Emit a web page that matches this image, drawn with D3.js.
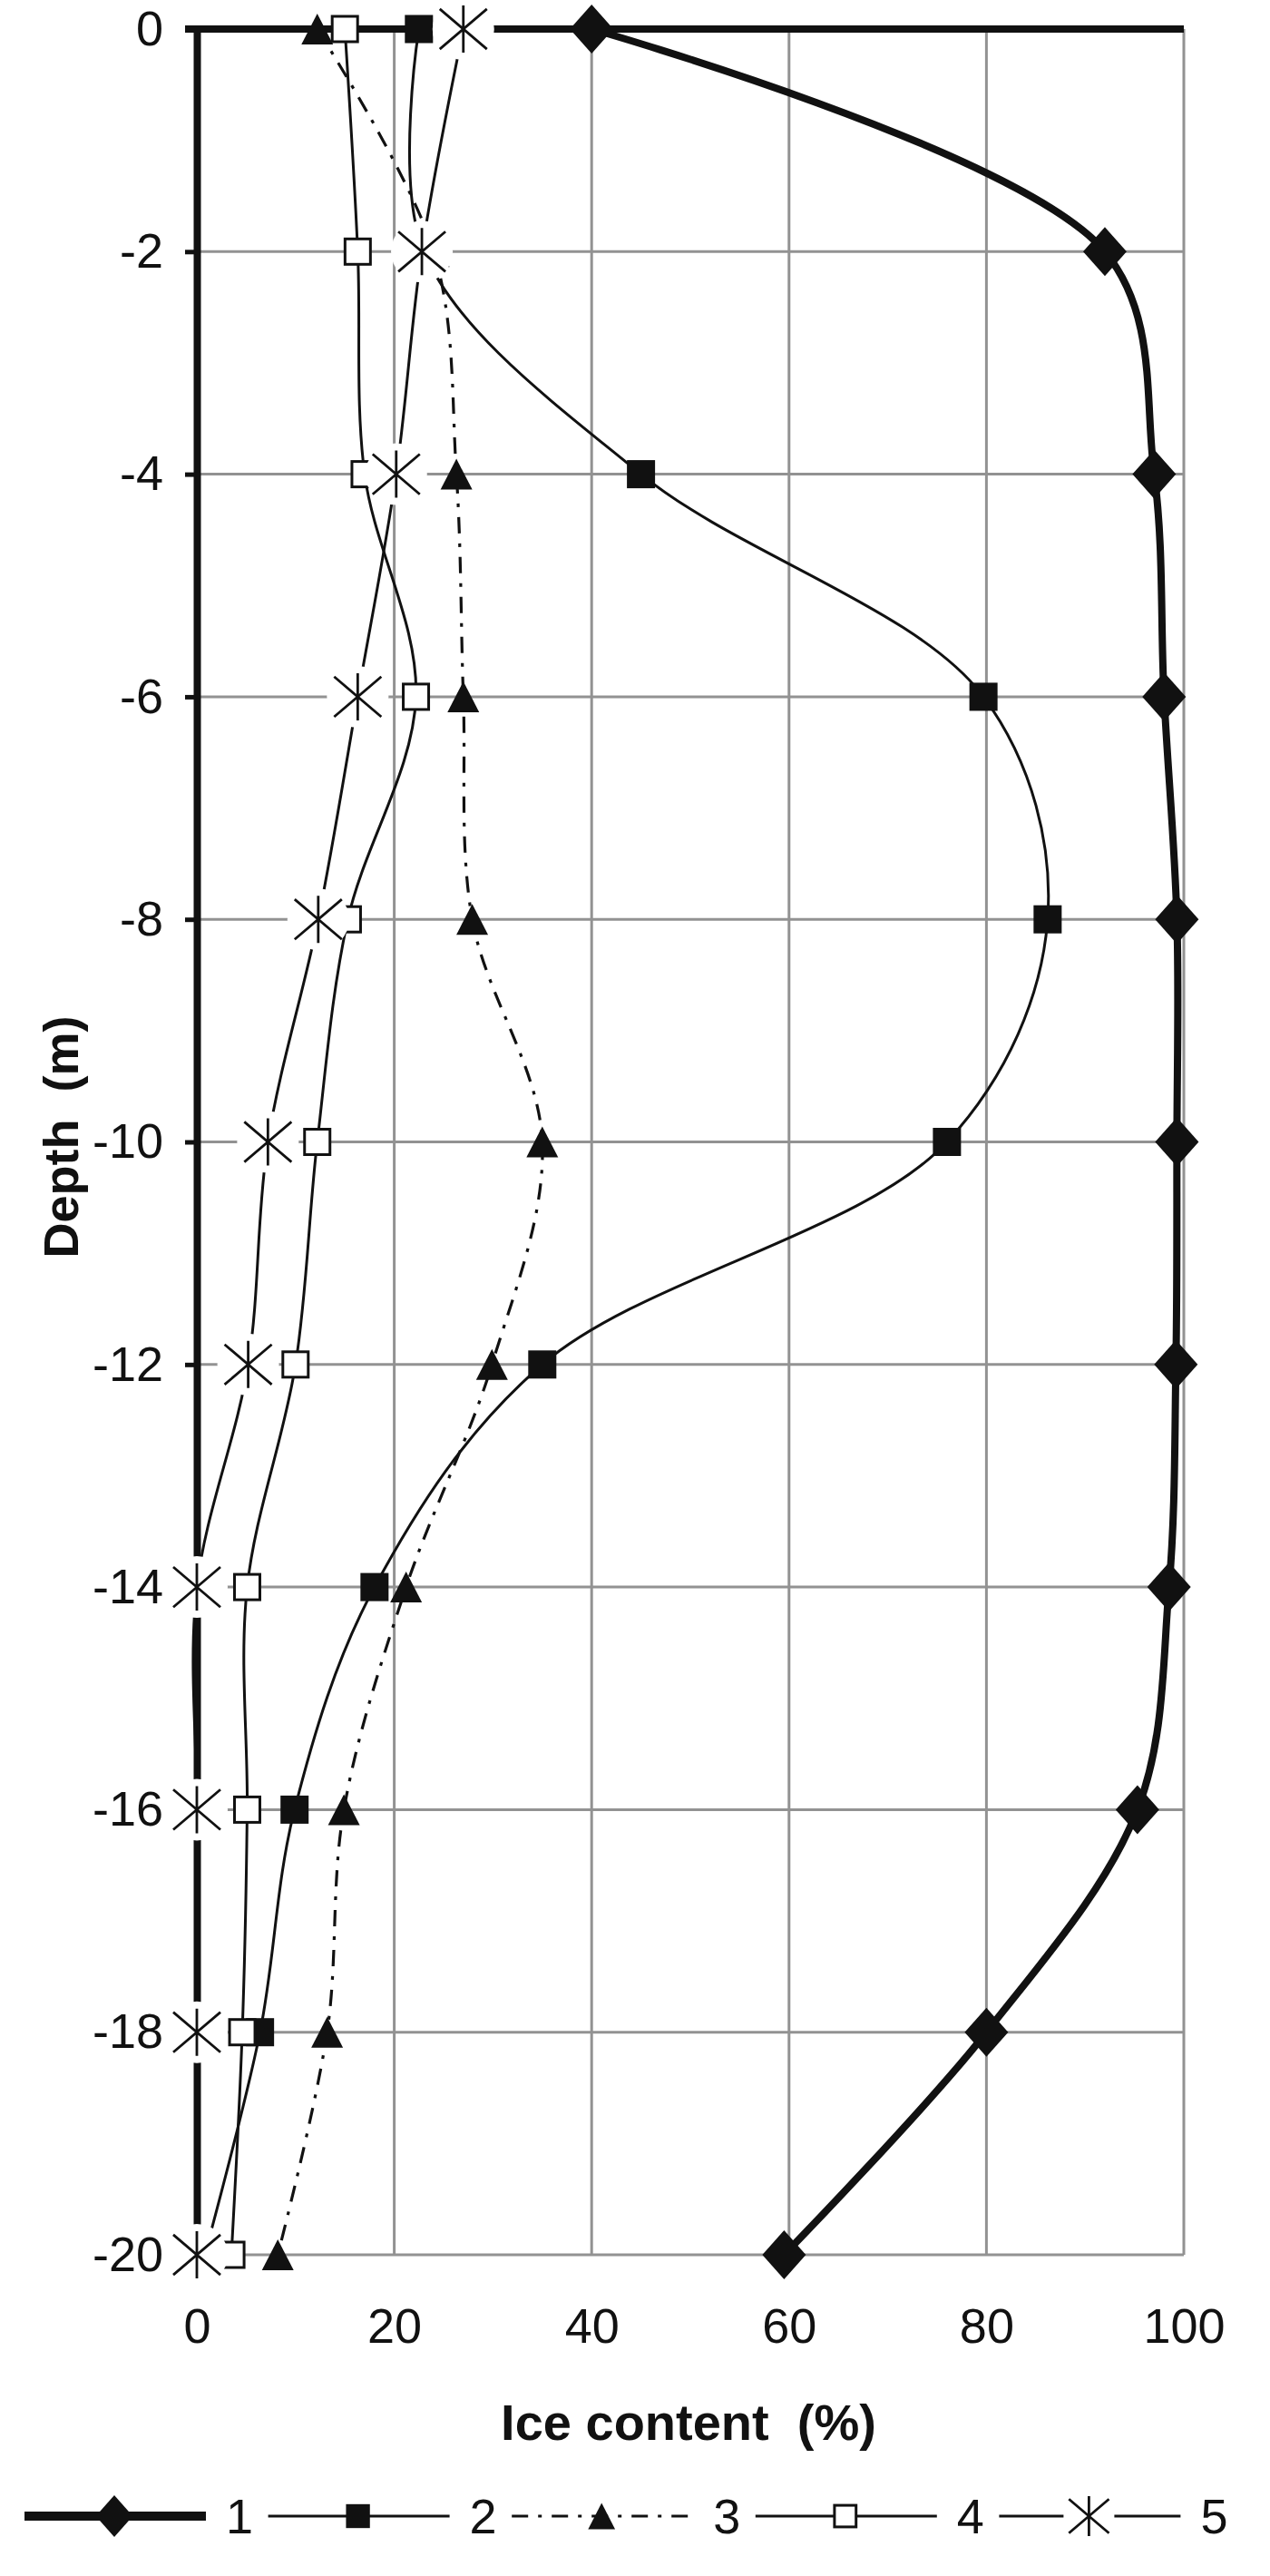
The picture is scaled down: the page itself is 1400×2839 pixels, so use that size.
<!DOCTYPE html>
<html>
<head>
<meta charset="utf-8">
<script src="https://cdn.jsdelivr.net/npm/d3@7"></script>
<style>
  html, body { margin: 0; padding: 0; background: #fff; }
  svg { display: block; font-family: "Liberation Sans", Arial, sans-serif; }
</style>
</head>
<body>
<svg id="chart" width="1400" height="2839"></svg>
<script>
// depth (m) for every measured point, and ice content (%) per profile
const depths = [0, -2, -4, -6, -8, -10, -12, -14, -16, -18, -20];
const series1 = [40, 92, 97, 98, 99.3, 99.3, 99.2, 98.5, 95.3, 80, 59.5];
const series2 = [22.5, 23, 45, 79.7, 86.2, 76, 35, 18, 9.9, 6.4, 0.8];
const series3 = [12.2, 24, 26.3, 27, 27.9, 35, 29.9, 21.2, 14.9, 13.2, 8.2];
const series4 = [15, 16.3, 17, 22.2, 15.3, 12.2, 10, 5.1, 5.1, 4.6, 3.5];
const series5 = [27, 22.8, 20.2, 16.3, 12.3, 7.2, 5.2, 0, 0, 0, 0];
const seriesNames = ["1", "2", "3", "4", "5"];
const xTicks = [0, 20, 40, 60, 80, 100];
const yTicks = [0, -2, -4, -6, -8, -10, -12, -14, -16, -18, -20];

const allSeries = [series1, series2, series3, series4, series5];

const ink = '#111';
const gridColor = '#929292';
const styles = [
  { width: 8, dash: null, marker: 'diamond' },
  { width: 3, dash: null, marker: 'square' },
  { width: 3.2, dash: '18,11,4,11', marker: 'triangle' },
  { width: 3, dash: null, marker: 'open' },
  { width: 3, dash: null, marker: 'star' }
];

const svg = d3.select('#chart');

const x = d3.scaleLinear().domain([0, 100]).range([217, 1305]);
const y = d3.scaleLinear().domain([0, -20]).range([32, 2485]);

// grid
const grid = svg.append('g');
grid.selectAll('.vgrid')
  .data(xTicks.filter(d => d > 0))
  .enter().append('line')
  .attr('x1', d => x(d)).attr('x2', d => x(d))
  .attr('y1', y(0)).attr('y2', y(-20))
  .attr('stroke', gridColor).attr('stroke-width', 3);
grid.selectAll('.hgrid')
  .data(yTicks.filter(d => d < 0))
  .enter().append('line')
  .attr('x1', x(0)).attr('x2', x(100))
  .attr('y1', d => y(d)).attr('y2', d => y(d))
  .attr('stroke', gridColor).attr('stroke-width', 3);

// y axis (thick, at x = 0)
const yAxis = svg.append('g')
  .attr('transform', `translate(${x(0)},0)`)
  .call(d3.axisLeft(y).tickValues(yTicks).tickSize(13).tickSizeOuter(0).tickPadding(24).tickFormat(d => String(d)));
yAxis.select('.domain').attr('stroke', ink).attr('stroke-width', 8);
yAxis.selectAll('.tick line').attr('stroke', ink).attr('stroke-width', 5);
yAxis.selectAll('.tick text')
  .attr('fill', ink)
  .style('font-size', '54px')
  .style('font-family', '"Liberation Sans", Arial, sans-serif');

// x axis labels at the bottom
const xAxis = svg.append('g')
  .attr('transform', `translate(0,${y(-20)})`)
  .call(d3.axisBottom(x).tickValues(xTicks).tickSize(0).tickPadding(59));
xAxis.select('.domain').remove();
xAxis.selectAll('.tick text')
  .attr('fill', ink)
  .style('font-size', '54px')
  .style('font-family', '"Liberation Sans", Arial, sans-serif');

// thick horizontal axis at depth 0
svg.append('line')
  .attr('x1', x(0) - 13).attr('x2', x(100))
  .attr('y1', y(0)).attr('y2', y(0))
  .attr('stroke', ink).attr('stroke-width', 8);

// axis titles
svg.append('text')
  .attr('x', 759).attr('y', 2689)
  .attr('text-anchor', 'middle')
  .style('white-space', 'pre')
  .style('font-size', '56px').style('font-weight', 'bold')
  .attr('fill', ink)
  .text('Ice content  (%)');

svg.append('text')
  .attr('transform', 'translate(86,1253) rotate(-90)')
  .attr('text-anchor', 'middle')
  .style('white-space', 'pre')
  .style('font-size', '54px').style('font-weight', 'bold')
  .attr('fill', ink)
  .text('Depth  (m)');

// lines
const line = d3.line()
  .x(d => x(d.v))
  .y(d => y(d.depth))
  .curve(d3.curveCatmullRom.alpha(0.5));

const rows = allSeries.map(s => s.map((v, i) => ({ v, depth: depths[i] })));

rows.forEach((r, i) => {
  svg.append('path')
    .datum(r)
    .attr('fill', 'none')
    .attr('stroke', ink)
    .attr('stroke-width', styles[i].width)
    .attr('stroke-dasharray', styles[i].dash)
    .attr('stroke-linejoin', 'round')
    .attr('d', line);
});

function drawMarker(g, type, k) {
  if (type === 'diamond') {
    g.append('path').attr('d', `M0,${-27 * k}L${24 * k},0L0,${27 * k}L${-24 * k},0Z`).attr('fill', ink);
  } else if (type === 'square') {
    g.append('rect').attr('x', -15.5 * k).attr('y', -15.5 * k).attr('width', 31 * k).attr('height', 31 * k).attr('fill', ink);
  } else if (type === 'triangle') {
    g.append('path').attr('d', `M0,${-17 * k}L${17.5 * k},${17 * k}L${-17.5 * k},${17 * k}Z`).attr('fill', ink);
  } else if (type === 'open') {
    g.append('rect').attr('x', -14 * k).attr('y', -14 * k).attr('width', 28 * k).attr('height', 28 * k)
      .attr('fill', '#fff').attr('stroke', ink).attr('stroke-width', 3);
  } else if (type === 'star') {
    const a = 26 * k;
    g.append('path')
      .attr('d', `M0,${-a}V${a}M${-a},${-a * 0.85}L${a},${a * 0.85}M${-a},${a * 0.85}L${a},${-a * 0.85}`)
      .attr('stroke', ink).attr('stroke-width', 2.8).attr('fill', 'none');
  }
}

// markers of series 1-4
rows.slice(0, 4).forEach((r, i) => {
  svg.append('g').selectAll('g')
    .data(r)
    .enter().append('g')
    .attr('transform', d => `translate(${x(d.v)},${y(d.depth)})`)
    .each(function () { drawMarker(d3.select(this), styles[i].marker, 1); });
});

// series 5 asterisks carry a white halo
const starG = svg.append('g');
starG.selectAll('circle')
  .data(rows[4])
  .enter().append('circle')
  .attr('cx', d => x(d.v)).attr('cy', d => y(d.depth))
  .attr('r', 34).attr('fill', '#fff');
starG.selectAll('g')
  .data(rows[4])
  .enter().append('g')
  .attr('transform', d => `translate(${x(d.v)},${y(d.depth)})`)
  .each(function () { drawMarker(d3.select(this), 'star', 1); });

// legend
const legendX = d3.scaleBand().domain(seriesNames).range([27, 1370]);
const legendY = 2773;
const legend = svg.append('g');
seriesNames.forEach((name, i) => {
  const x0 = legendX(name);
  const item = legend.append('g').attr('transform', `translate(${x0},${legendY})`);
  item.append('line')
    .attr('x1', 0).attr('x2', 200).attr('y1', 0).attr('y2', 0)
    .attr('stroke', ink)
    .attr('stroke-width', i === 0 ? 10 : styles[i].width)
    .attr('stroke-dasharray', styles[i].dash);
  const m = item.append('g').attr('transform', 'translate(99,0)');
  if (styles[i].marker === 'star') {
    m.append('rect').attr('x', -28).attr('y', -24).attr('width', 56).attr('height', 48).attr('fill', '#fff');
  }
  drawMarker(m, styles[i].marker, 0.85);
  item.append('text')
    .attr('x', 222).attr('y', 19)
    .style('font-size', '54px')
    .attr('fill', ink)
    .text(name);
});
</script>
</body>
</html>
